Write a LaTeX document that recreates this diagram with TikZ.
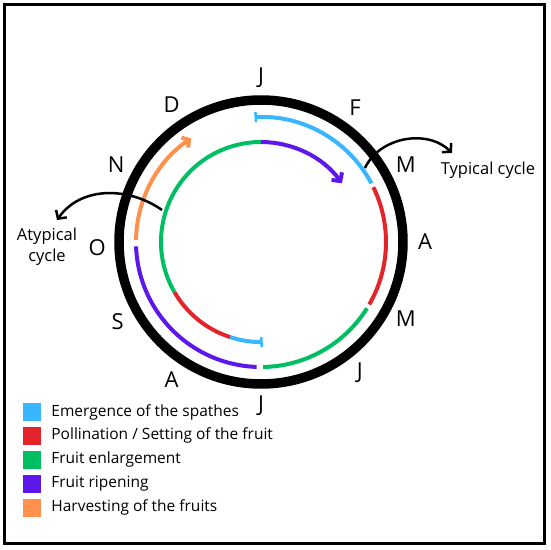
\documentclass[tikz,border=0pt]{standalone}
\usepackage{fontspec}
\setmainfont{Open Sans}
\usetikzlibrary{arrows.meta,positioning,calc}
\definecolor{spathe}{HTML}{38B6FF}
\definecolor{pollin}{HTML}{E3242B}
\definecolor{enlarge}{HTML}{00BF63}
\definecolor{ripen}{HTML}{5E17EB}
\definecolor{harvest}{HTML}{FF914D}

\begin{document}
\begin{tikzpicture}[x=1pt,y=1pt,node distance=5.5pt,
  month/.style={font=\fontsize{22}{24}\selectfont,inner sep=0pt},
  phase/.style={line width=4pt},
  key/.style={minimum size=18pt,inner sep=0pt},
  keytext/.style={font=\fontsize{15.5}{18}\selectfont,inner sep=0pt,right=10pt of #1},
  cyclelbl/.style={font=\fontsize{16.5}{21}\selectfont,align=center,inner sep=0pt},
  pointer/.style={line width=2.5pt,-{Straight Barb[length=6pt,width=13pt]}}]
\useasboundingbox (0,0) rectangle (550,550);
\draw[line width=3.3pt] (4.3,6.7) rectangle (544.3,545.7);
\coordinate (c) at (261,308);
\draw[line width=9.5pt] (c) circle[radius=142pt];
% months, clockwise from the top
\foreach \ang/\m [count=\i] in {90/J,55/F,28/M,0/A,-28/M,-53/J,-90/J,-123/A,-151/S,182/O,152/N,123/D}
  \node[month] (m\i) at ($(c)+(\ang:164pt)$) {\m};
% typical cycle (outer track)
\draw[phase,spathe,{Bar[width=10pt,line width=2.5pt]}-] ($(c)+(93:125pt)$) arc[start angle=93,end angle=28,radius=125pt];
\draw[phase,pollin] ($(c)+(26:125pt)$) arc[start angle=26,end angle=-30,radius=125pt];
\draw[phase,enlarge] ($(c)+(-32:125pt)$) arc[start angle=-32,end angle=-89,radius=125pt];
\draw[phase,ripen] ($(c)+(-92:125pt)$) arc[start angle=-92,end angle=-178,radius=125pt];
\draw[phase,harvest,-{Straight Barb[length=5pt,width=12pt]}] ($(c)+(179:125pt)$) arc[start angle=179,end angle=124,radius=125pt];
% atypical cycle (inner track)
\draw[phase,spathe,-{Bar[width=10pt,line width=2.5pt]}] ($(c)+(252:100pt)$) arc[start angle=252,end angle=271,radius=100pt];
\draw[phase,pollin] ($(c)+(252:100pt)$) arc[start angle=252,end angle=210,radius=100pt];
\draw[phase,enlarge] ($(c)+(210:100pt)$) arc[start angle=210,end angle=90,radius=100pt];
\draw[phase,ripen,-{Straight Barb[length=6pt,width=13pt]}] ($(c)+(90:100pt)$) arc[start angle=90,end angle=36,radius=100pt];
% cycle labels
\node[cyclelbl] (typ) at (488,380) {Typical cycle};
\node[cyclelbl] (atyp) at (47,303) {Atypical\\cycle};
\coordinate (typs) at (365,382);
\coordinate (type) at (452,397);
\coordinate (atyps) at (162,340);
\coordinate (atype) at (57,330);
\draw[pointer] (typs) to[out=65,in=135] (type);
\draw[pointer] (atyps) to[out=145,in=55] (atype);
% legend
\node[key,fill=spathe] (k1) at (32,138) {};
\node[key,fill=pollin,below=of k1] (k2) {};
\node[key,fill=enlarge,below=of k2] (k3) {};
\node[key,fill=ripen,below=of k3] (k4) {};
\node[key,fill=harvest,below=of k4] (k5) {};
\node[keytext=k1] (t1) {Emergence of the spathes};
\node[keytext=k2] (t2) {Pollination / Setting of the fruit};
\node[keytext=k3] (t3) {Fruit enlargement};
\node[keytext=k4] (t4) {Fruit ripening};
\node[keytext=k5] (t5) {Harvesting of the fruits};
\end{tikzpicture}
\end{document}
